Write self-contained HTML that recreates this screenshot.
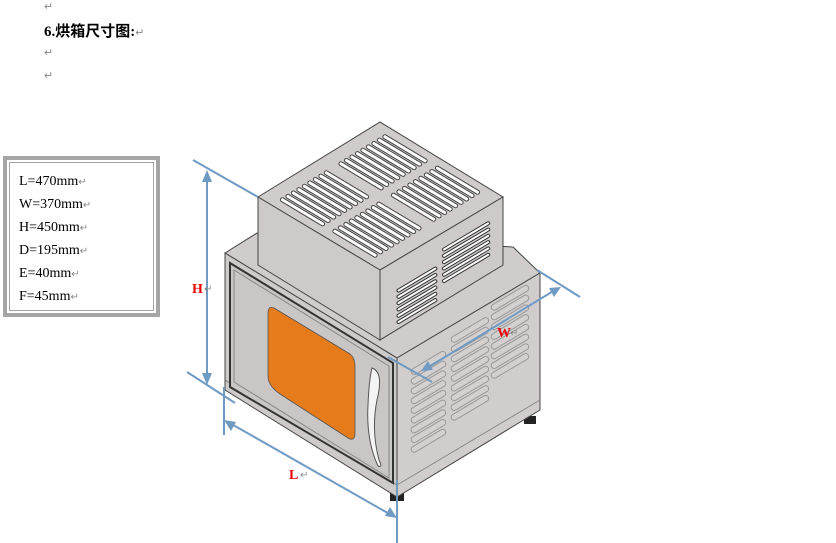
<!DOCTYPE html>
<html><head><meta charset="utf-8"><style>
body{margin:0;width:836px;height:543px;background:#fff;overflow:hidden;position:relative;font-family:"Liberation Serif","Noto Serif CJK SC",serif}
.rm{position:absolute;color:#888;font-size:11px}
#legend{position:absolute;left:3px;top:156px;width:149px;height:153px;border:4px solid #a6a6a6;}
#legend .in{position:absolute;left:2px;top:2px;right:2px;bottom:2px;border:1px solid #a6a6a6}
#legend div.t{position:absolute;left:12px;font-size:14px;color:#000}
#legend span{color:#888;font-size:10px}
</style></head><body>
<div class="rm" style="left:44px;top:0px">↵</div>
<div style="position:absolute;left:44px;top:20px;font-weight:bold;font-size:15px;font-family:'Liberation Serif','Noto Sans CJK SC',serif">6.烘箱尺寸图:<span style="color:#888;font-weight:normal;font-size:11px">↵</span></div>
<div class="rm" style="left:44px;top:46px">↵</div>
<div class="rm" style="left:44px;top:69px">↵</div>
<div id="legend"><div class="in"></div>
<div class="t" style="top:14px">L=470mm<span>↵</span></div>
<div class="t" style="top:37px">W=370mm<span>↵</span></div>
<div class="t" style="top:60px">H=450mm<span>↵</span></div>
<div class="t" style="top:83px">D=195mm<span>↵</span></div>
<div class="t" style="top:106px">E=40mm<span>↵</span></div>
<div class="t" style="top:129px">F=45mm<span>↵</span></div>
</div>
<svg id="s" width="836" height="543" style="position:absolute;left:0;top:0" xmlns="http://www.w3.org/2000/svg">
<!-- feet -->
<rect x="390" y="493" width="14" height="8" fill="#222"/>
<rect x="524" y="416" width="12" height="8" fill="#222"/>
<!-- lower body -->
<polygon points="225,253 257,233 513,247 540,273 397,358" fill="#cfcccb" stroke="#444" stroke-width="1"/>
<polygon points="225,253 397,358 397,497 225,390" fill="#cdcac9" stroke="#444" stroke-width="1"/>
<polygon points="397,358 540,273 540,410 397,497" fill="#d0cdcc" stroke="#444" stroke-width="1"/>
<line x1="225" y1="380" x2="397" y2="485" stroke="#777" stroke-width="1"/>
<line x1="397" y1="485" x2="540" y2="400" stroke="#888" stroke-width="1"/>
<!-- door -->
<polygon points="230,263 393,363 393,483 230,387" fill="#c9c6c5" stroke="#333" stroke-width="2"/>
<polygon points="234,270 389,366 389,478 234,382" fill="none" stroke="#888" stroke-width="1"/>
<path d="M274,308 L327,340 L350,354 Q355,358 355,366 L355,433 Q355,442 348,438 L280,394 Q268,386 268,376 L268,314 Q268,305 274,308 Z" fill="#e57b1a" stroke="#555" stroke-width="0.8"/>
<path d="M372,368 Q384,372 377,400 Q371,430 379,460 Q383,468 378,466 Q366,440 368,405 Q369,380 372,368 Z" fill="#f4f4f4" stroke="#555" stroke-width="1"/>
<!-- top box -->
<polygon points="258,197 380,122 503,197 380,270" fill="#cfcccb" stroke="#444" stroke-width="1"/>
<polygon points="258,197 380,270 380,340 258,265" fill="#cdcac9" stroke="#444" stroke-width="1"/>
<polygon points="380,270 503,197 503,265 380,340" fill="#cdcac9" stroke="#444" stroke-width="1"/>
<g id="vents"></g>
<!-- dimension lines -->
<g stroke="#6f9ac4" stroke-width="2" fill="none">
<line x1="193" y1="160" x2="258" y2="197"/>
<line x1="187" y1="372" x2="235" y2="403"/>
<line x1="207" y1="176" x2="207" y2="380"/>
<line x1="224" y1="387" x2="224" y2="435"/>
<line x1="397" y1="480" x2="397" y2="543"/>
<line x1="228" y1="422" x2="393" y2="516"/>
<line x1="388" y1="357" x2="432" y2="382"/>
<line x1="537" y1="270" x2="580" y2="297"/>
<line x1="427" y1="368" x2="555" y2="290"/>
</g>
<g fill="#6f9ac4">
<polygon points="207,170 202,182 212,182"/>
<polygon points="207,385 202,373 212,373"/>
<polygon points="224,420 236,422 231,431"/>
<polygon points="397,518 385,516 390,507"/>
<polygon points="421,371 428,361 433,370"/>
<polygon points="561,287 549,288 554,297"/>
</g>
<g font-family="Liberation Serif,serif" font-weight="bold" font-size="14" fill="#e00">
<text x="192" y="293">H</text><text x="497" y="337">W</text><text x="289" y="479">L</text>
</g>
<g font-size="10" fill="#888"><text x="204" y="292">↵</text><text x="510" y="336">↵</text><text x="300" y="478">↵</text></g>
</svg>
<script>
var g=document.getElementById('vents'),NS='http://www.w3.org/2000/svg',h='';
function ln(x1,y1,x2,y2,c,w){h+='<line x1="'+x1+'" y1="'+y1+'" x2="'+x2+'" y2="'+y2+'" stroke="'+c+'" stroke-width="'+w+'" stroke-linecap="round"/>';}
function P(s,t){return [258+s*122+t*122,197+s*73-t*75];}
// top face slots: along s, stacked in t
[[0.12,0.45,0.08,0.44],[0.12,0.45,0.56,0.92],[0.55,0.88,0.08,0.44],[0.55,0.88,0.56,0.92]].forEach(function(r){
 for(var i=0;i<9;i++){var t=r[2]+(r[3]-r[2])*i/8;var a=P(r[0],t),b=P(r[1],t);ln(a[0],a[1],b[0],b[1],'#444',5);ln(a[0],a[1],b[0],b[1],'#fff',3);}
});
// top box right face slots: along v, stacked vertically
function R(v,d){return [380+v*123,270-v*73+d*70];}
[[0.15,0.45],[0.52,0.88]].forEach(function(r,k){
 for(var i=0;i<6;i++){var d=(k?0.25:0.45)+i*0.09;var a=R(r[0],d),b=R(r[1],d);ln(a[0],a[1],b[0],b[1],'#333',4);ln(a[0],a[1],b[0],b[1],'#fff',2);}
});
// lower side slots
function S(v,d){return [397+v*143,358-v*85+d*139];}
[[0.12,0.32,0.12,9],[0.4,0.62,0.06,9],[0.68,0.9,0.0,8]].forEach(function(c){
 for(var i=0;i<c[3];i++){var d=c[2]+i*0.07+0.05;var a=S(c[0],d),b=S(c[1],d);ln(a[0],a[1],b[0],b[1],'#999',7);ln(a[0],a[1],b[0],b[1],'#d3d0cf',5);}
});
g.innerHTML=h;
</script>
</body></html>
